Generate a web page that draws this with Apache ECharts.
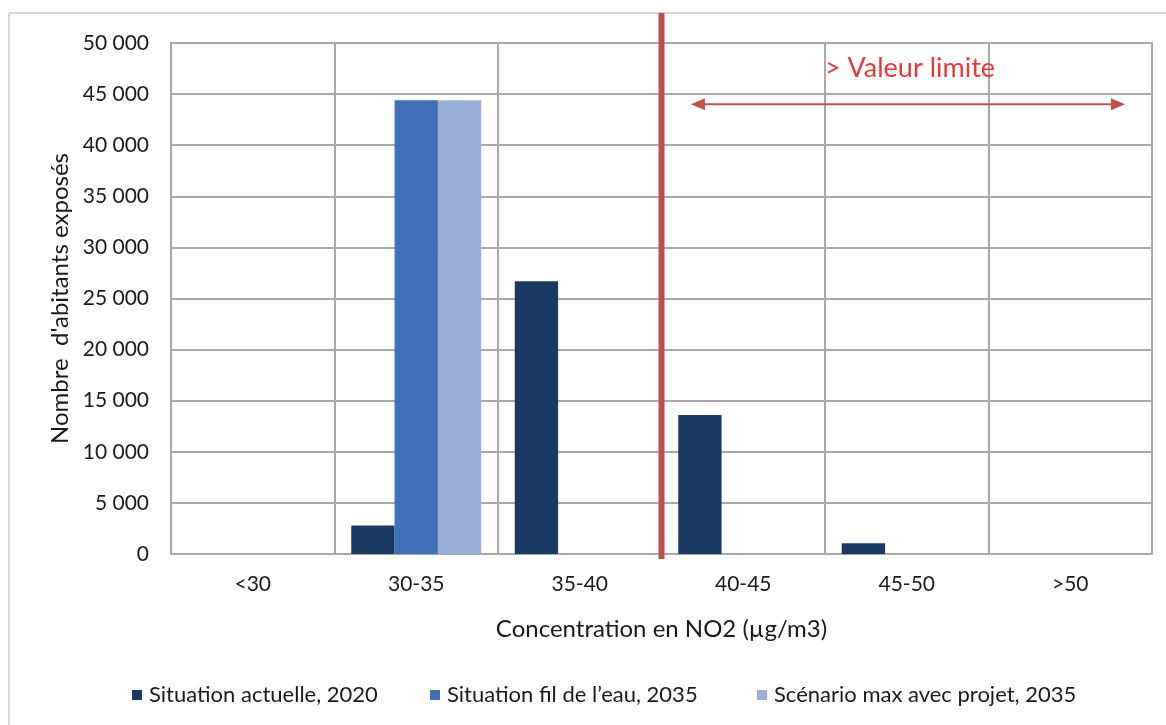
<!DOCTYPE html>
<html>
<head>
<meta charset="utf-8">
<script src="https://cdn.jsdelivr.net/npm/echarts@6/dist/echarts.min.js"></script>
<style>
  html, body { margin: 0; padding: 0; background: #ffffff; }
  #chart { width: 1166px; height: 725px; }
</style>
</head>
<body>
<div id="chart"></div>
<script>
// NO2 exposure classes (µg/m3)
const categories = ['<30', '30-35', '35-40', '40-45', '45-50', '>50'];

// Number of exposed inhabitants per class
const seriesNames = [
  'Situation actuelle, 2020',
  'Situation fil de l\u2019eau, 2035',
  'Scénario max avec projet, 2035'
];
const actuelle2020 = [0, 2800, 26700, 13600, 1050, 0];
const filEau2035   = [0, 44400, 0, 0, 0, 0];
const scenario2035 = [0, 44400, 0, 0, 0, 0];

// Value axis range
const yMin = 0, yMax = 50000, yStep = 5000;

// Limit value sits between these two classes
const limitAfter = '35-40';
const limitLabel = '> Valeur limite';

const colors = ['#1A3A64', '#3F70B8', '#9AAED6'];
const gridColor = '#A8A8A8';
const red = '#C0504D';
const font = 'Lato, "Open Sans", sans-serif';
const ink = '#1a1a1a';

function fmt(v) {
  return String(v).replace(/\B(?=(\d{3})+(?!\d))/g, ' ');
}

const chart = echarts.init(document.getElementById('chart'), null, { renderer: 'canvas' });

const legendLefts = [127, 425, 752];

const option = {
  backgroundColor: '#ffffff',
  animation: false,
  textStyle: { fontFamily: font },
  grid: {
    left: 171, right: 14, top: 43, bottom: 171,
    show: true, borderColor: gridColor, borderWidth: 2, backgroundColor: 'transparent'
  },
  legend: seriesNames.map((n, i) => ({
    data: [n],
    left: legendLefts[i],
    top: 679,
    icon: 'rect',
    itemWidth: 10,
    itemHeight: 10,
    itemGap: 0,
    textStyle: { fontFamily: font, fontSize: 22, color: ink, padding: [0, 0, 0, 2] },
    selectedMode: false
  })),
  xAxis: {
    type: 'category',
    data: categories,
    boundaryGap: true,
    axisLine: { show: true, lineStyle: { color: gridColor, width: 2 } },
    axisTick: { show: false },
    splitLine: { show: true, interval: 0, lineStyle: { color: gridColor, width: 2 } },
    axisLabel: { interval: 0, margin: 20, fontSize: 21, color: ink, fontFamily: font },
    name: 'Concentration en NO2 (µg/m3)',
    nameLocation: 'middle',
    nameGap: 63,
    nameTextStyle: { fontSize: 24, color: ink, fontFamily: font }
  },
  yAxis: {
    type: 'value',
    min: yMin, max: yMax, interval: yStep,
    axisLine: { show: true, lineStyle: { color: gridColor, width: 2 } },
    axisTick: { show: false },
    splitLine: { show: true, lineStyle: { color: gridColor, width: 2 } },
    axisLabel: { margin: 22, fontSize: 21, color: ink, fontFamily: font, formatter: fmt },
    name: 'Nombre  d\'abitants exposés',
    nameLocation: 'middle',
    nameGap: 97,
    nameRotate: 90,
    nameTextStyle: { fontSize: 24, color: ink, fontFamily: font }
  },
  series: [
    { name: seriesNames[0], type: 'bar', data: actuelle2020, itemStyle: { color: colors[0] },
      barGap: '0%', barCategoryGap: '20.5%' },
    { name: seriesNames[1], type: 'bar', data: filEau2035, itemStyle: { color: colors[1] },
      barGap: '0%', barCategoryGap: '20.5%' },
    { name: seriesNames[2], type: 'bar', data: scenario2035, itemStyle: { color: colors[2] },
      barGap: '0%', barCategoryGap: '20.5%' }
  ]
};

chart.setOption(option);

// Limit line at the class boundary, arrow spanning the classes above it
const idx = categories.indexOf(limitAfter);
const c0 = chart.convertToPixel({ xAxisIndex: 0 }, categories[idx]);
const c1 = chart.convertToPixel({ xAxisIndex: 0 }, categories[idx + 1]);
const band = c1 - c0;
const limitX = (c0 + c1) / 2;
const lastX = chart.convertToPixel({ xAxisIndex: 0 }, categories[categories.length - 1]) + band / 2;
const yBase = chart.convertToPixel({ yAxisIndex: 0 }, yMin);
const arrowY = chart.convertToPixel({ yAxisIndex: 0 }, 44000);
const textY = chart.convertToPixel({ yAxisIndex: 0 }, 47500);
const aL = limitX + band * 0.18;
const aR = lastX - band * 0.165;
const head = 14, half = 6;

chart.setOption({
  graphic: [
    // outer frame (top and left edges)
    { type: 'line', shape: { x1: 9, y1: 13, x2: 1166, y2: 13 }, style: { stroke: '#D6D6D6', lineWidth: 2 }, z: 1 },
    { type: 'line', shape: { x1: 9, y1: 13, x2: 9, y2: 725 }, style: { stroke: '#D6D6D6', lineWidth: 2 }, z: 1 },
    // limit line
    { type: 'line', shape: { x1: limitX, y1: 13, x2: limitX, y2: yBase + 5 }, style: { stroke: red, lineWidth: 6 }, z: 100 },
    // double arrow
    { type: 'line', shape: { x1: aL + head - 2, y1: arrowY, x2: aR - head + 2, y2: arrowY }, style: { stroke: red, lineWidth: 2 }, z: 100 },
    { type: 'polygon', shape: { points: [[aL, arrowY], [aL + head, arrowY - half], [aL + head, arrowY + half]] }, style: { fill: red }, z: 100 },
    { type: 'polygon', shape: { points: [[aR, arrowY], [aR - head, arrowY - half], [aR - head, arrowY + half]] }, style: { fill: red }, z: 100 },
    { type: 'text', x: 910, y: textY, style: { text: limitLabel, fill: '#E8383B', font: '27px ' + font, textAlign: 'center', textVerticalAlign: 'middle' }, z: 100 }
  ]
});
</script>
</body>
</html>
